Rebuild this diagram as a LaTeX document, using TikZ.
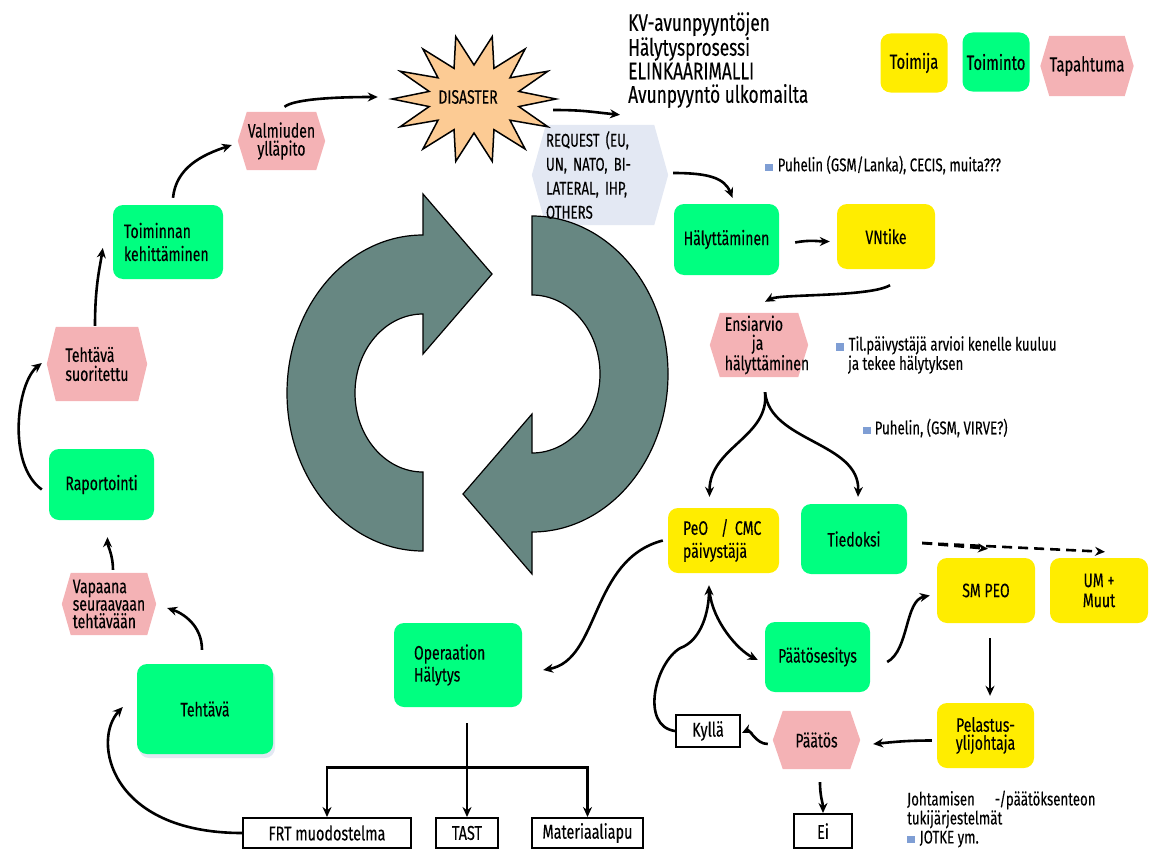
\documentclass[tikz,border=0pt]{standalone}
\usepackage{fontspec}
\setmainfont{Fira Sans}[FakeStretch=0.72, FakeBold=0.25]
\usetikzlibrary{calc,backgrounds,arrows.meta}
\definecolor{actg}{RGB}{0,255,128}
\definecolor{acty}{RGB}{255,237,0}
\definecolor{evp}{RGB}{244,178,181}
\definecolor{reqc}{RGB}{227,232,243}
\definecolor{peach}{RGB}{252,203,148}
\definecolor{cyc}{RGB}{103,135,130}
\definecolor{bul}{RGB}{127,158,212}
\newcommand\hexbg[3]{%
\begin{pgfonlayer}{background}
\fill[#3] ($(#1.north west)+(#2,0)$) -- ($(#1.north east)+(-#2,0)$) -- (#1.east) -- ($(#1.south east)+(-#2,0)$) -- ($(#1.south west)+(#2,0)$) -- (#1.west) -- cycle;
\end{pgfonlayer}}
\newcommand\bulsq{\textcolor{bul}{\rule{7.5pt}{7.5pt}}}
\begin{document}
\begin{tikzpicture}[x=1pt,y=-1pt,
  base/.style={inner sep=0pt, align=center, font=\fontsize{19.5}{22}\selectfont, text=black},
  gbox/.style={base, fill=actg, rounded corners=10pt},
  ybox/.style={base, fill=acty, rounded corners=10pt},
  evt/.style={base},
  wbox/.style={base, draw=black, line width=2pt, fill=white, font=\fontsize{20}{20}\selectfont},
  note/.style={base, align=left, anchor=west, font=\fontsize{18.4}{18}\selectfont},
  arr/.style={line width=2.6pt, -{Stealth[length=10pt,width=9pt]}},
  dasharr/.style={arr, dash pattern=on 10pt off 6pt},
]
\useasboundingbox (0,0) rectangle (1151,851);

% cycle arrows
\filldraw[fill=cyc, draw=black, line width=1.2pt] (423,235) arc[start angle=270, end angle=90, x radius=136, y radius=158] -- (423,472) arc[start angle=90, end angle=270, x radius=68, y radius=79] -- (423,354) -- (492,274) -- (423,194) -- cycle;
\filldraw[fill=cyc, draw=black, line width=1.2pt] (532,216) arc[start angle=270, end angle=450, x radius=136, y radius=158] -- (532,574) -- (463,494) -- (532,414) -- (532,453) arc[start angle=90, end angle=-90, x radius=68, y radius=79] -- cycle;

% star
\filldraw[fill=peach, draw=black, line width=1.5pt, line join=miter] (556,99) \foreach \i in {1,...,27}{ -- ({474+(iseven(\i) ? 82 : 46)*cos(\i*12.857)},{99+(iseven(\i) ? 64 : 34)*sin(\i*12.857)}) } -- cycle;
\node[base, minimum width=180, minimum height=120] (disaster) at (468,97) {DISASTER};

% title and legend
\node[base, align=left, anchor=north west, font=\fontsize{24}{23.5}\selectfont] (title) at (628,12) {KV-avunpyyntöjen\\Hälytysprosessi\\ELINKAARIMALLI\\Avunpyyntö ulkomailta};
\node[ybox, minimum width=67, minimum height=59, font=\fontsize{20.5}{22}\selectfont] (lgy) at (914,63) {Toimija};
\node[gbox, minimum width=67, minimum height=59, font=\fontsize{20.5}{22}\selectfont] (lgg) at (996,62) {Toiminto};
\node[evt, minimum width=93, minimum height=60, font=\fontsize{20.5}{22}\selectfont] (lgp) at (1087,66) {Tapahtuma};
\hexbg{lgp}{9}{evp}

% request
\node[base, align=left, minimum width=136, minimum height=100, inner xsep=14pt, text width=108, font=\fontsize{18.4}{24}\selectfont] (req) at (600,175) {REQUEST (EU,\\UN, NATO, BI-\\LATERAL, IHP,\\OTHERS};
\hexbg{req}{14}{reqc}

% left cycle
\node[evt, minimum width=87, minimum height=58, font=\fontsize{19.5}{18}\selectfont] (valm) at (281.5,141) {Valmiuden\\ylläpito};
\hexbg{valm}{9}{evp}
\node[gbox, align=left, minimum width=110, minimum height=74, inner xsep=11pt, text width=88, font=\fontsize{19.5}{23}\selectfont] (toim) at (168,242) {Toiminnan\\kehittäminen};
\node[evt, align=left, minimum width=100, minimum height=74, font=\fontsize{19.5}{19}\selectfont] (tsuor) at (97,364) {Tehtävä\\suoritettu};
\hexbg{tsuor}{9}{evp}
\node[gbox, minimum width=105, minimum height=71] (rap) at (101.5,484.5) {Raportointi};
\node[evt, align=left, minimum width=94, minimum height=62, font=\fontsize{19.5}{17.5}\selectfont] (vapa) at (109,604) {Vapaana\\seuraavaan\\tehtävään};
\hexbg{vapa}{9}{evp}
\begin{pgfonlayer}{background}
\fill[reqc, rounded corners=10pt] (139,668) rectangle (275,758);
\end{pgfonlayer}
\node[gbox, minimum width=136, minimum height=90] (teht) at (205,709) {Tehtävä};

% bottom
\node[gbox, align=left, minimum width=128, minimum height=84, inner xsep=20pt, text width=88, font=\fontsize{19.5}{22}\selectfont] (oper) at (458,665) {Operaation\\Hälytys};
\node[wbox, minimum width=168, minimum height=30] (frt) at (327,833) {FRT muodostelma};
\node[wbox, minimum width=62, minimum height=30] (tast) at (467,833) {TAST};
\node[wbox, minimum width=111, minimum height=30] (mat) at (587.5,833) {Materiaaliapu};

% right side
\node[gbox, minimum width=105, minimum height=71] (hal) at (726.5,239.5) {Hälyttäminen};
\node[ybox, minimum width=98, minimum height=65] (vnt) at (886,236.5) {VNtike};
\node[evt, minimum width=98, minimum height=64, label={[base, align=left, xshift=8pt, font=\fontsize{19.5}{19}\selectfont]center:{Ensiarvio\\\hspace*{27pt}ja\\hälyttäminen}}] (ens) at (759,345) {};
\hexbg{ens}{10}{evp}
\node[ybox, align=left, minimum width=111, minimum height=65, inner xsep=15pt, text width=81, font=\fontsize{19.5}{23}\selectfont] (peo) at (723.5,540.5) {PeO\ \ / CMC\\päivystäjä};
\node[gbox, minimum width=106, minimum height=70] (tied) at (854,539) {Tiedoksi};
\node[ybox, minimum width=98, minimum height=65] (smpeo) at (986,590.5) {SM PEO};
\node[ybox, minimum width=98, minimum height=65, font=\fontsize{19.5}{20}\selectfont] (umm) at (1099,590.5) {UM +\\Muut};
\node[gbox, minimum width=105, minimum height=70] (pesit) at (817.5,657) {Päätösesitys};
\node[ybox, minimum width=97, minimum height=65, font=\fontsize{19.5}{18}\selectfont] (pel) at (985.5,735.5) {Pelastus-\\ylijohtaja};
\node[evt, minimum width=87, minimum height=58] (paat) at (816.5,740) {Päätös};
\hexbg{paat}{10}{evp}
\node[wbox, minimum width=64, minimum height=32] (kyl) at (708,731) {Kyllä};
\node[wbox, minimum width=58, minimum height=34] (ei) at (823,831) {Ei};

% notes
\node[note] (n1) at (765,165) {\bulsq\hspace{5pt}Puhelin (GSM/Lanka), CECIS, muita???};
\node[note] (n2) at (836,355) {\bulsq\hspace{5pt}Til.päivystäjä arvioi kenelle kuuluu\\\hspace*{12pt}ja tekee hälytyksen};
\node[note] (n3) at (863,428) {\bulsq\hspace{4pt}Puhelin, (GSM, VIRVE?)};
\node[note, font=\fontsize{18.4}{19}\selectfont] (n4) at (907,819) {Johtamisen\hspace{20pt}-/päätöksenteon\\tukijärjestelmät\\\bulsq\hspace{5pt}JOTKE ym.};

% connectors
\draw[arr] ($(toim.north)+(5,-7)$) .. controls +(3,-30) and +(-30,10) .. ($(valm.west)+(-6,4)$);
\draw[arr] ($(valm.north)+(3,-5)$) .. controls +(10,-8) and +(-40,0) .. (disaster.west);
\draw[arr] ($(disaster.east)+(-5,13)$) .. controls +(30,0) and +(-30,-3) .. ($(req.north)+(20,-10)$);
\draw[arr] ($(req.east)+(5,-2)$) .. controls +(35,0) and +(-8,-20) .. ($(hal.north)+(6,-6)$);
\draw[arr] ($(hal.east)+(16,3)$) .. controls +(15,-3) and +(-10,0) .. ($(vnt.west)+(-7,5)$);
\draw[arr] ($(vnt.south)+(4,16)$) .. controls +(-20,12) and +(15,-8) .. ($(ens.north)+(6,-11)$);
\draw[arr] ($(ens.south)+(6,15)$) .. controls +(5,45) and +(0,-50) .. ($(peo.north)+(-14,-11)$);
\draw[arr] ($(ens.south)+(6,15)$) .. controls +(5,50) and +(2,-55) .. ($(tied.north)+(4,-7)$);
\draw[dasharr] ($(tied.east)+(15,4)$) -- ($(smpeo.north)+(2,-9)$);
\draw[dasharr] ($(tied.east)+(15,4)$) -- ($(umm.north)+(6,-6)$);
\draw[arr] ($(peo.west)+(-5,0)$) .. controls +(-73,19) and +(57,-10) .. ($(oper.east)+(21,5)$);
\coordinate (tj) at ($(oper.south)+(9,60)$);
\draw[arr] ($(oper.south)+(9,16)$) -- (tast.north);
\draw[arr] (tj) -| (frt.north);
\draw[arr] (tj) -| (mat.north);
\draw[arr] (frt.west) .. controls +(-133,0) and +(-31,33) .. ($(teht.west)+(-14,-2)$);
\draw[arr] ($(teht.north)+(-3,-14)$) .. controls +(0,-25) and +(15,5) .. ($(vapa.east)+(11,4)$);
\draw[arr] ($(vapa.north)+(4,-3)$) .. controls +(0,-15) and +(0,8) .. ($(rap.south)+(6,17)$);
\draw[arr] ($(rap.west)+(-7,5)$) .. controls +(-35,-25) and +(-25,20) .. ($(tsuor.west)+(-5,-1)$);
\draw[arr] ($(tsuor.north)+(-2,-1)$) .. controls +(0,-40) and +(-3,20) .. ($(toim.west)+(-10,6)$);
\draw[arr] ($(smpeo.south)+(4,15)$) -- ($(pel.north)+(4.5,-7)$);
\draw[arr] ($(pel.west)+(-5,5)$) .. controls +(-25,0) and +(20,-2) .. ($(paat.east)+(13,4)$);
\draw[arr] ($(paat.west)+(-5,4)$) .. controls +(-12,0) and +(8,-4) .. ($(kyl.east)+(1,2)$);
\draw[arr] ($(paat.south)+(3.5,13)$) .. controls +(0,15) and +(0,-10) .. (ei.north);
\draw[arr] (kyl.west) .. controls +(-35,-5) and +(-25,15) .. ($(peo.south)+(-43.5,75)$) .. controls +(22,-8) and +(0,25) .. ($(peo.south)+(-14.5,12)$);
\draw[arr] ($(peo.south)+(-14,18)$) .. controls +(3,30) and +(-20,-10) .. ($(pesit.west)+(-7,3)$);
\draw[arr] ($(pesit.east)+(17,5)$) .. controls +(22,-12) and +(-25,5) .. ($(smpeo.west)+(-7,5)$);
\end{tikzpicture}
\end{document}
